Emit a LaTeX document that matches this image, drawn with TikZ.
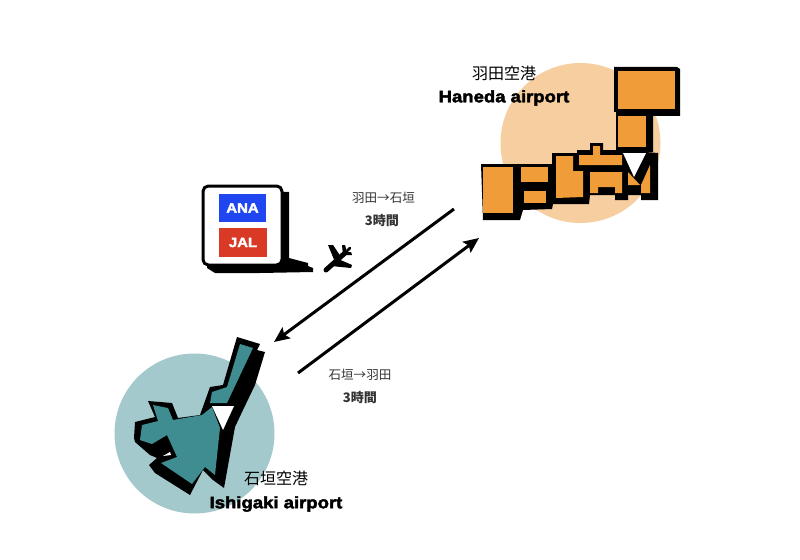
\documentclass[tikz,border=0pt]{standalone}
\usepackage{fontspec}
\usetikzlibrary{arrows.meta}
\setmainfont{Liberation Sans}
\newfontfamily\jpfont{Noto Sans CJK JP}
\newfontfamily\heavyfont[FakeBold=2.6,FakeStretch=1.12]{Liberation Sans Bold}
\definecolor{hanedaback}{HTML}{F7CEA0}
\definecolor{hanedaland}{HTML}{F09C38}
\definecolor{ishigakiback}{HTML}{A4C9CC}
\definecolor{ishigakiland}{HTML}{3F8C91}
\definecolor{anablue}{HTML}{1F46F0}
\definecolor{jalred}{HTML}{D93A25}
\definecolor{labelgray}{HTML}{333333}
\tikzset{
  landbox/.style={fill=hanedaland,draw=none},
  airport/.style={font=\jpfont\fontsize{12}{14}\selectfont,inner sep=0pt},
  airportname/.style={font=\heavyfont\fontsize{12.4}{14}\selectfont,inner sep=0pt},
  route/.style={font=\jpfont\fontsize{9.4}{11}\selectfont,text=labelgray,inner sep=0pt},
  hours/.style={font=\jpfont\bfseries\fontsize{9.8}{11}\selectfont,text=labelgray,inner sep=0pt},
  airline/.style={font=\heavyfont\fontsize{10}{12}\selectfont,text=white,inner sep=0pt,minimum width=35.5pt,minimum height=21.5pt},
}
\begin{document}
\begin{tikzpicture}[x=0.75pt,y=-0.75pt,>={Stealth[length=11.5pt,width=10pt,inset=2pt]},line join=round]
\useasboundingbox (0,0) rectangle (800,560);
% circles
\fill[hanedaback] (580.5,143) circle (80);
\fill[ishigakiback] (194.5,433.5) circle (80);
% Haneda side
\fill (481,164)--(552,164)--(552,153)--(577,153)--(577,150)--(590,150)--(590,143)--(603,143)--(603,150)--(620,150)--(658,153)--(658,200)--(641,200)--(641,195)--(628,195)--(628,200)--(615,200)--(615,195)--(590,195)--(589,204)--(553,204)--(552,209)--(523,210)--(520,220)--(483,220)--cycle;
\fill (614,67)--(677,67)--(680,69)--(680,116)--(653,116)--(653,152)--(616,152)--(616,112)--(614,112)--cycle;
\fill[landbox] (618,71) rectangle (675,109);
\fill[landbox] (618,116) rectangle (646,147);
\fill[landbox] (483,167) rectangle (513,213);
\fill[landbox] (521,167) rectangle (548,182);
\fill[landbox] (524,191) rectangle (546,203);
\fill[landbox] (556,156)--(573,156)--(573,171)--(583,171)--(583,197)--(556,198)--cycle;
\fill[landbox] (579,155)--(593,155)--(593,146)--(600,146)--(600,155)--(622,155)--(622,165)--(579,165)--cycle;
\fill[landbox] (590,172)--(622,172)--(622,193)--(615,193)--(615,187)--(598,187)--(598,193)--(590,193)--cycle;
\fill[landbox] (628,172)--(640,185)--(628,185)--cycle;
\fill[landbox] (650,165)--(650,193)--(641,193)--(641,185)--cycle;
\fill[white] (623,153)--(646,153)--(634,177)--cycle;
% Ishigaki side
\fill (237,337)--(260,344)--(257,350)--(265,352)--(255,385)--(243,410)--(235,427)--(224,488)--(213,480)--(203,470)--(190,495)--(155,473)--(149,465)--(157,458)--(150,455)--(135,442)--(134,438)--(135,422)--(155,417)--(148,401)--(172,403)--(178,418)--(200,415)--(210,387)--(223,385)--cycle;
\fill[ishigakiland] (240,344)--(253,348)--(227,403)--(210,403)--(212,392)--(227,387)--cycle;
\fill[ishigakiland] (153,405)--(168,408)--(173,420)--(202,415)--(212,407)--(220,428)--(215,475)--(205,467)--(192,484)--(161,463)--(177,457)--(167,435)--(152,444)--(140,440)--(142,425)--(158,421)--cycle;
\fill[white] (212,406)--(234,406)--(223,430)--cycle;
\fill[white] (163,456)--(170,452)--(171,455)--cycle;
% balloon
\fill (207,190)--(289,192)--(289,258)--(308,263)--(308,266)--(313,268)--(313,272)--(260,273)--(215,273)--(207,268)--cycle;
\draw[line width=2.25pt,fill=white,rounded corners=4pt] (203,186)--(282,186)--(282,265)--(203,265)--cycle;
\fill (282,258)--(306,264)--(282,266)--cycle;
\node[airline,fill=anablue] (ana) at (242.5,208) {ANA};
\node[airline,fill=jalred] (jal) at (243,242.5) {JAL};
% plane
\draw[line width=3.75pt,line cap=round] (326,270)--(345,253);
\draw[line width=2pt,line cap=round] (345,253)--(350,248);
\fill (328,245)--(333,245)--(341,257)--(335,262)--cycle;
\fill (336,258)--(352,265)--(351,268)--(331,266)--cycle;
\fill (342,245)--(345,245)--(347,252)--(351,252)--(352,255)--(343,255)--cycle;
% routes
\coordinate (hanedaout) at (454,209);
\coordinate (ishigakiin) at (274,342);
\coordinate (ishigakiout) at (298,373);
\coordinate (hanedain) at (479,238);
\draw[->,line width=2.25pt] (hanedaout)--(ishigakiin);
\draw[->,line width=2.25pt] (ishigakiout)--(hanedain);
% labels
\node[airport] (hanedajp) at (504,73) {羽田空港};
\node[airportname] (hanedaen) at (504,98) {Haneda airport};
\node[airport] (ishigakijp) at (276,478) {石垣空港};
\node[airportname] (ishigakien) at (276,504) {Ishigaki airport};
\node[route] (outroute) at (383.5,198) {羽田→石垣};
\node[hours] (outhours) at (382,221) {3時間};
\node[route] (backroute) at (360,375) {石垣→羽田};
\node[hours] (backhours) at (360,398) {3時間};
\end{tikzpicture}
\end{document}
